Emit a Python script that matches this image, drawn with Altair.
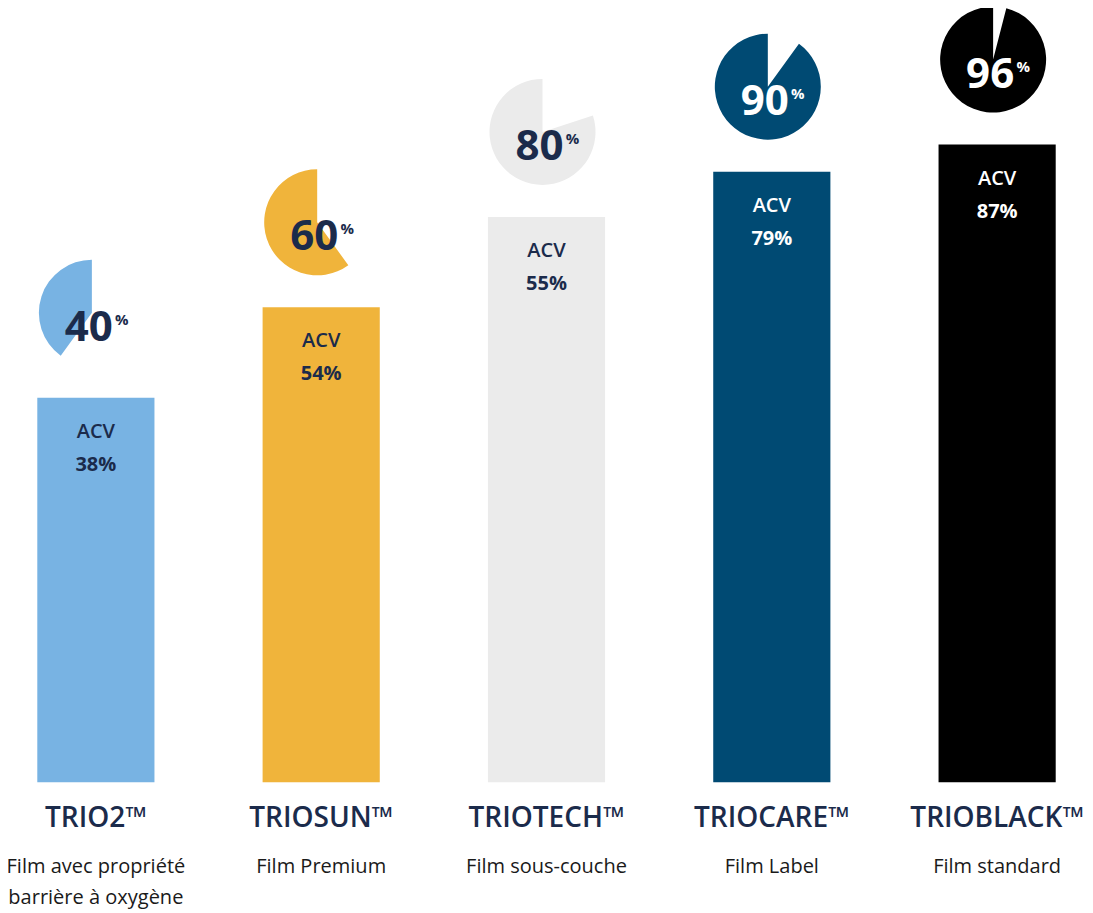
import math
import altair as alt
import pandas as pd

products = ["TRIO2™", "TRIOSUN™", "TRIOTECH™", "TRIOCARE™", "TRIOBLACK™"]
descriptions = [
    "Film avec propriété\nbarrière à oxygène",
    "Film Premium",
    "Film sous-couche",
    "Film Label",
    "Film standard",
]
recycled_pct = [40, 60, 80, 90, 96]
acv_pct = [38, 54, 55, 79, 87]
bar_colors = ["#78b3e3", "#f0b43b", "#ebebeb", "#004a73", "#000000"]

df = pd.DataFrame({
    "product": products,
    "desc": descriptions,
    "pct": recycled_pct,
    "acv": acv_pct,
})

NAVY = "#1b2b4b"
FONT = "Open Sans"
BASE = -45

x_enc = alt.X("product:N", sort=products,
              scale=alt.Scale(domain=products, paddingInner=0.48, paddingOuter=0.13),
              axis=None)
y_enc = alt.Y("pct:Q", scale=alt.Scale(domain=[-73.5, 126.2], nice=False, zero=False), axis=None)
color_enc = alt.Color("product:N", scale=alt.Scale(domain=products, range=bar_colors), legend=None)

base = alt.Chart(df)

bars = base.mark_bar().encode(x=x_enc, y=y_enc, y2=alt.datum(BASE), color=color_enc)

pies = base.transform_calculate(start="100 - datum.pct", end="100").mark_arc(
    radius=53, xOffset=-4, yOffset=-85
).encode(
    x=x_enc, y=y_enc,
    theta=alt.Theta("start:Q", scale=alt.Scale(domain=[0, 100], range=[0, 2 * math.pi])),
    theta2="end:Q",
    color=color_enc,
)

dark_test = "datum.pct >= 90"
txt_color = alt.condition(dark_test, alt.value("white"), alt.value(NAVY))

pie_num = base.mark_text(font=FONT, fontSize=42, fontWeight="bold", dx=-7, dy=-70,
                         align="center", baseline="middle").encode(
    x=x_enc, y=y_enc, text=alt.Text("pct:Q"), color=txt_color)

pie_pct = base.mark_text(font=FONT, fontSize=15, fontWeight="bold", dx=26, dy=-78,
                         align="center", baseline="middle", text="%").encode(
    x=x_enc, y=y_enc, color=txt_color)

acv_word = base.mark_text(font=FONT, fontSize=20, fontWeight=600, dy=34,
                          align="center", baseline="middle", text="ACV").encode(
    x=x_enc, y=y_enc, color=txt_color)

acv_val = base.transform_calculate(lab="datum.acv + '%'").mark_text(
    font=FONT, fontSize=20, fontWeight="bold", dy=67, align="center", baseline="middle"
).encode(x=x_enc, y=y_enc, text="lab:N", color=txt_color)

names = base.mark_text(font=FONT, fontSize=28, fontWeight=600, dy=37, color=NAVY,
                       align="center", baseline="middle").encode(
    x=x_enc, y=alt.datum(BASE), text="product:N")

descs = base.mark_text(font=FONT, fontSize=20, dy=75, color="#1a1a1a", lineBreak="\n",
                       lineHeight=31, align="center", baseline="top").encode(
    x=x_enc, y=alt.datum(BASE), text="desc:N")

chart = alt.layer(bars, pies, pie_num, pie_pct, acv_word, acv_val, names, descs).properties(
    width=1077, height=903, padding=0,
    autosize=alt.AutoSizeParams(type="none"),
).configure(background="white").configure_view(stroke=None)

chart.save("out.html", embed_options={"renderer": "svg", "actions": False})
